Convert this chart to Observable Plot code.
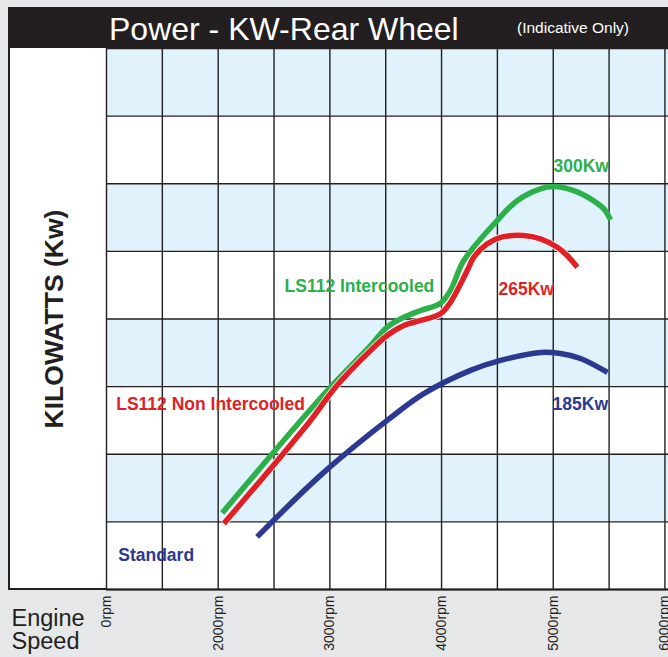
<!DOCTYPE html>
<html><head><meta charset="utf-8">
<script src="https://cdn.jsdelivr.net/npm/d3@7"></script>
<script src="https://cdn.jsdelivr.net/npm/@observablehq/plot@0.6"></script>
<style>
html,body{margin:0;padding:0;background:#e6e7e8;}
body{width:668px;height:657px;overflow:hidden;font-family:"Liberation Sans",Arial,Helvetica,sans-serif;}
#header{position:relative;height:48px;}
#bar{position:absolute;left:8px;top:7px;right:0;height:41px;background:#231f20;}
#title{position:absolute;left:101px;top:6px;color:#fff;font-size:32px;line-height:32px;white-space:nowrap;}
#subtitle{position:absolute;left:509px;top:13px;color:#fff;font-size:15.5px;line-height:15.5px;white-space:nowrap;}
#chart{position:relative;height:609px;}
#strip{position:absolute;left:8px;top:0;width:98px;height:542px;background:#fff;border-left:2px solid #231f20;border-bottom:2px solid #231f20;box-sizing:border-box;}
#chart svg{position:absolute;left:0;top:0;}
</style>
</head><body>
<div id="header"><div id="bar"><span id="title"></span><span id="subtitle"></span></div></div>
<div id="chart"><div id="strip"></div></div>
<script>
// ---- text ----
const titleText = "Power - KW-Rear Wheel";
const subtitleText = "(Indicative Only)";
const yAxisLabel = "KILOWATTS (Kw)";
const xAxisLabel = "Engine\nSpeed";

// ---- axes / grid ----
const rpmTicks = [1000, 2000, 3000, 4000, 5000, 6000];
const rpmTickLabels = ["0rpm", "2000rpm", "3000rpm", "4000rpm", "5000rpm", "6000rpm"];
const gridRpm = [1000, 1500, 2000, 2500, 3000, 3500, 4000, 4500, 5000, 5500, 6000];
const gridKw = [0, 50, 100, 150, 200, 250, 300, 350, 400];
const bandStarts = [50, 150, 250, 350];
const bandSize = 50;

// ---- series ----
const seriesNames = ["LS112 Intercooled", "LS112 Non Intercooled", "Standard"];
const seriesColors = ["#2bb04a", "#e11f26", "#2b3990"];

const intercooledRpm = [2036, 2767, 3006, 3364, 3513, 3662, 3812, 3991, 4080, 4199, 4498, 4677, 4886, 5005, 5184, 5334, 5453, 5513];
const intercooledKw  = [56.6, 127.5, 149.6, 180.4, 194.0, 201.3, 206.3, 211.7, 221.1, 243.2, 272.8, 287.5, 296.2, 297.9, 294.9, 288.8, 281.4, 273.3];

const nonIntercooledRpm = [2050, 2827, 3050, 3364, 3513, 3662, 3812, 3991, 4080, 4230, 4289, 4409, 4528, 4737, 4886, 5036, 5125, 5215];
const nonIntercooledKw  = [48.7, 125.0, 149.6, 176.7, 187.8, 195.2, 198.9, 203.9, 212.4, 235.8, 245.7, 255.6, 260.4, 261.7, 259.2, 253.0, 246.9, 238.3];

const standardRpm = [2349, 2916, 3513, 3841, 4259, 4528, 4886, 5065, 5244, 5486];
const standardKw  = [38.9, 84.4, 125.0, 144.8, 162.0, 169.4, 175.3, 174.5, 170.8, 160.5];

// ---- annotations ----
const labelTexts  = ["300Kw", "LS112 Intercooled", "265Kw", "LS112 Non Intercooled", "185Kw", "Standard"];
const labelSeries = ["LS112 Intercooled", "LS112 Intercooled", "LS112 Non Intercooled", "LS112 Non Intercooled", "Standard", "Standard"];
const labelRpm    = [5002, 2594, 4510, 1087, 4994, 1105];
const labelKw     = [312.8, 224.2, 221.8, 136.7, 136.5, 25.3];

// ---- build tables ----
const mk = (name, xs, ys) => xs.map((x, i) => ({series: name, rpm: x, kw: ys[i]}));
const rows = [
  ...mk(seriesNames[0], intercooledRpm, intercooledKw),
  ...mk(seriesNames[1], nonIntercooledRpm, nonIntercooledKw),
  ...mk(seriesNames[2], standardRpm, standardKw)
];
const green = rows.filter(d => d.series === seriesNames[0]);
const red = rows.filter(d => d.series === seriesNames[1]);
const blue = rows.filter(d => d.series === seriesNames[2]);
const labels = labelTexts.map((t, i) => ({text: t, series: labelSeries[i], rpm: labelRpm[i], kw: labelKw[i]}));
const tickLabelMap = new Map(rpmTicks.map((t, i) => [t, rpmTickLabels[i]]));

document.getElementById("title").textContent = titleText;
document.getElementById("subtitle").textContent = subtitleText;

const ink = "#231f20";
const lineOpts = {x: "rpm", y: "kw", stroke: "series", strokeWidth: 5.5, curve: "catmull-rom", strokeLinecap: "butt", strokeLinejoin: "round"};

const chart = Plot.plot({
  width: 668, height: 609,
  marginLeft: 106, marginRight: 0, marginTop: 0, marginBottom: 68,
  x: {domain: [1000, 6032]},
  y: {domain: [0, 400], axis: null},
  color: {domain: seriesNames, range: seriesColors},
  style: {background: "transparent", overflow: "visible", fontFamily: "'Liberation Sans', Arial, Helvetica, sans-serif", color: ink},
  marks: [
    Plot.frame({fill: "white", stroke: null}),
    Plot.rect(bandStarts, {y1: d => d, y2: d => d + bandSize, fill: "#e0f2fc"}),
    Plot.ruleX(gridRpm, {stroke: ink, strokeWidth: 1.4}),
    Plot.ruleY(gridKw, {stroke: ink, strokeWidth: 1.4}),
    Plot.ruleY([0], {stroke: ink, strokeWidth: 2}),
    Plot.line(blue, lineOpts),
    Plot.line(green, lineOpts),
    Plot.line(red, {...lineOpts, stroke: "white", strokeWidth: 7}),
    Plot.line(red, lineOpts),
    Plot.text(labels, {x: "rpm", y: "kw", text: "text", fill: "series", textAnchor: "start", lineAnchor: "middle", fontSize: 17.5, fontWeight: "bold"}),
    Plot.axisX({ticks: rpmTicks, tickFormat: d => tickLabelMap.get(d), tickRotate: -90, tickSize: 0, tickPadding: 6, fontSize: 14, label: null}),
    Plot.text([yAxisLabel], {frameAnchor: "left", dx: -52, rotate: -90, textAnchor: "middle", fontSize: 26.5, fontWeight: "bold", fill: ink}),
    Plot.text([xAxisLabel], {frameAnchor: "bottom-left", dx: -95, dy: 19, textAnchor: "start", lineAnchor: "top", fontSize: 23.5, lineHeight: 1.02, fill: ink})
  ]
});
document.getElementById("chart").appendChild(chart);
</script>
</body></html>
